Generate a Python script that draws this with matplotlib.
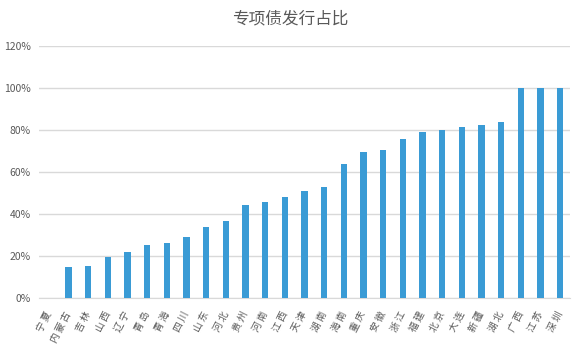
import matplotlib.pyplot as plt
from matplotlib.ticker import PercentFormatter

plt.rcParams['font.family'] = ['Noto Sans CJK SC', 'DejaVu Sans']

# data
regions = ['宁夏', '内蒙古', '吉林', '山西', '辽宁', '青岛', '青海', '四川', '山东',
           '河北', '贵州', '河南', '江西', '天津', '湖南', '海南', '重庆', '安徽',
           '浙江', '福建', '北京', '大连', '新疆', '湖北', '广西', '江苏', '深圳']
share = [0.0, 14.8, 15.2, 19.5, 21.9, 25.2, 26.2, 29.1, 33.8,
         36.7, 44.3, 45.7, 48.1, 51.0, 52.9, 63.8, 69.5, 70.5,
         75.7, 79.0, 80.0, 81.4, 82.4, 83.8, 100.0, 100.0, 100.0]

BAR = '#3A9BD5'
GRID = '#D9D9D9'
TXT = '#595959'

fig = plt.figure(figsize=(5.81, 3.52), dpi=100)
ax = fig.add_axes([39 / 581, 1 - 298 / 352, 531 / 581, 252 / 352])

x = range(len(regions))
ax.bar(x, share, width=0.31, color=BAR, zorder=3)

ax.set_xlim(-0.5, len(regions) - 0.5)
ax.set_ylim(0, 120)
ax.set_yticks(range(0, 121, 20))
ax.yaxis.set_major_formatter(PercentFormatter(decimals=0))
ax.grid(axis='y', color=GRID, linewidth=1, zorder=0)

for s in ['top', 'right', 'left']:
    ax.spines[s].set_visible(False)
ax.spines['bottom'].set_color(GRID)

ax.tick_params(axis='both', length=0, colors=TXT)
ax.tick_params(axis='y', pad=6, labelsize=7.5)
ax.tick_params(axis='x', pad=10, labelsize=7)
ax.set_xticks(list(x))
# spaced out characters like the original labels
ax.set_xticklabels([' '.join(r) for r in regions], rotation=63, ha='right',
                   va='center', rotation_mode='anchor')

fig.suptitle('专项债发行占比', x=0.5, y=0.97, fontsize=12, color=TXT,
             fontweight='light')

fig.savefig('out.png', dpi=100)
